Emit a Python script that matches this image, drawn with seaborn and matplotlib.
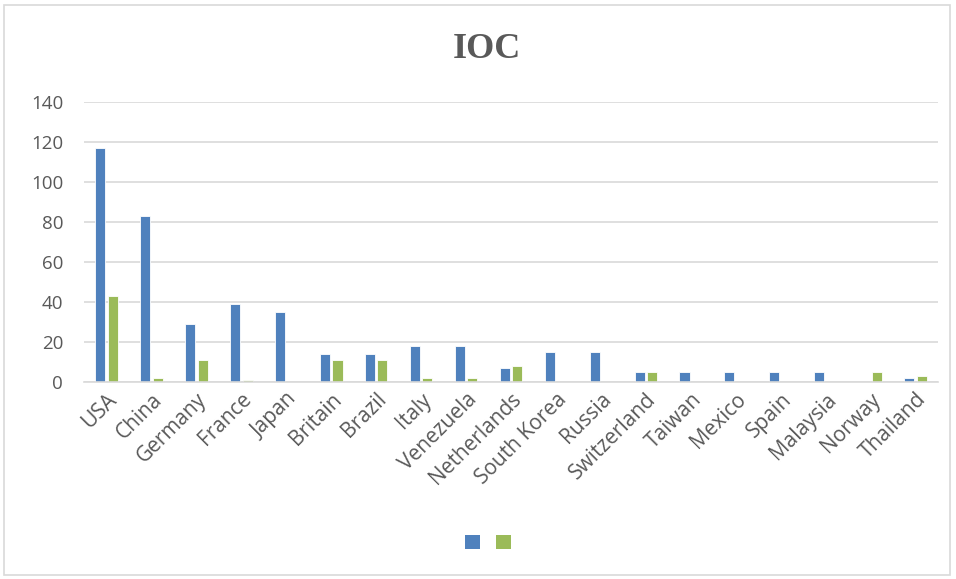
import matplotlib
matplotlib.use("Agg")
import matplotlib.pyplot as plt
import seaborn as sns
import pandas as pd
from matplotlib.patches import Rectangle, Patch

countries = ["USA", "China", "Germany", "France", "Japan", "Britain", "Brazil", "Italy",
             "Venezuela", "Netherlands", "South Korea", "Russia", "Switzerland", "Taiwan",
             "Mexico", "Spain", "Malaysia", "Norway", "Thailand"]
series1 = [117, 83, 29, 39, 35, 14, 14, 18, 18, 7, 15, 15, 5, 5, 5, 5, 5, 0, 2]
series2 = [43, 2, 11, 1, 0, 11, 11, 2, 2, 8, 0, 0, 5, 0, 0, 0, 0, 5, 3]
series_names = ["Series1", "Series2"]
yticks = [0, 20, 40, 60, 80, 100, 120, 140]
title = "IOC"

blue = "#4F81BD"
green = "#9BBB59"
grey_text = "#595959"

df = pd.DataFrame({
    "country": countries * 2,
    "value": series1 + series2,
    "series": [series_names[0]] * len(countries) + [series_names[1]] * len(countries),
})

sns.set_theme(style="white")
plt.rcParams["font.family"] = ["Open Sans", "DejaVu Sans"]

fig = plt.figure(figsize=(9.56, 5.79), dpi=100)
ax = fig.add_axes([84 / 956, 1 - 382 / 579, (938 - 84) / 956, (382 - 102) / 579])

sns.barplot(data=df, x="country", y="value", hue="series", order=countries,
            hue_order=series_names, palette=[blue, green], saturation=1,
            width=0.56, gap=0.2, edgecolor="white", linewidth=0.6, ax=ax, legend=False)

ax.set_ylim(0, 140)
ax.set_yticks(yticks)
ax.set_xlim(-0.5, len(countries) - 0.5)
ax.yaxis.grid(True, color="#D9D9D9", linewidth=1.2)
ax.set_axisbelow(True)
for s in ["top", "right", "left"]:
    ax.spines[s].set_visible(False)
ax.spines["bottom"].set_color("#D9D9D9")
ax.spines["bottom"].set_linewidth(1.2)
ax.set_xlabel("")
ax.set_ylabel("")
ax.tick_params(axis="both", length=0, colors=grey_text)
ax.tick_params(axis="y", pad=15, labelsize=13.5)
ax.tick_params(axis="x", pad=5, labelsize=15)
plt.setp(ax.get_xticklabels(), rotation=45, ha="right", rotation_mode="anchor")

fig.text(487 / 956, 1 - 50 / 579, title, ha="center", va="center",
         fontsize=26, fontweight="bold", color=grey_text,
         family=["Liberation Serif", "DejaVu Serif"])

handles = [Patch(facecolor=blue, edgecolor="none"), Patch(facecolor=green, edgecolor="none")]
fig.legend(handles, ["", ""], loc="center", bbox_to_anchor=(488 / 956, 1 - 543 / 579),
           ncol=2, frameon=False, handlelength=0.8, handleheight=0.8,
           handletextpad=0.0, columnspacing=0.9, fontsize=13)

fig.patches.append(Rectangle((4 / 956, 1 - 575 / 579), 946 / 956, 570 / 579,
                             transform=fig.transFigure, fill=False,
                             edgecolor="#D9D9D9", linewidth=1.2))

fig.savefig("out.png", dpi=100)
